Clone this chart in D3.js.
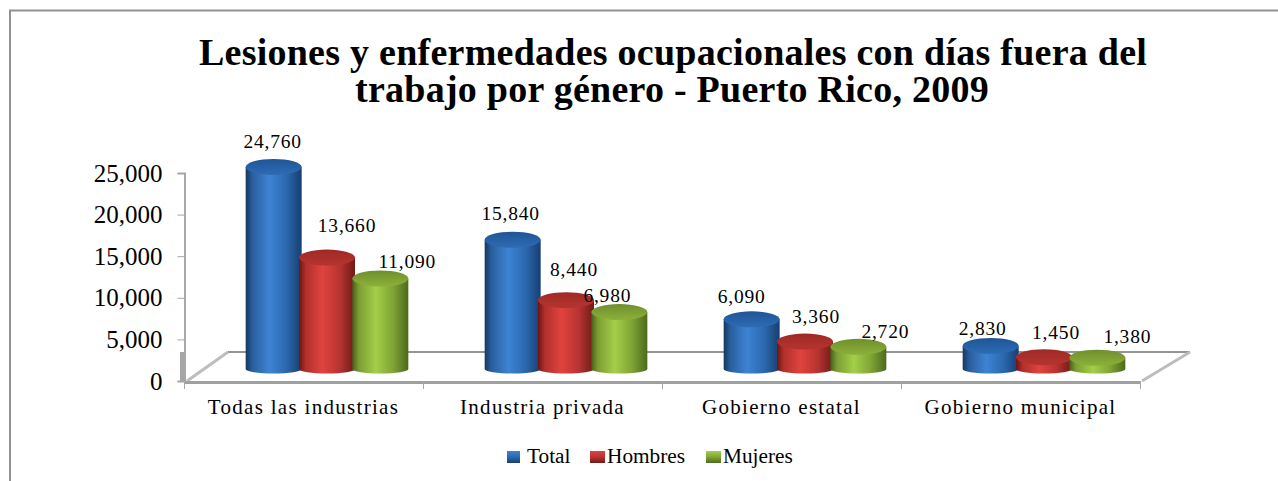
<!DOCTYPE html>
<html><head><meta charset="utf-8">
<script src="https://cdnjs.cloudflare.com/ajax/libs/d3/7.8.5/d3.min.js"></script>
<style>html,body{margin:0;padding:0;background:#fff}svg{display:block}text{font-family:"Liberation Serif",serif;fill:#000}</style>
</head><body><script>
const categories = ["Todas las industrias","Industria privada","Gobierno estatal","Gobierno municipal"];
const seriesNames = ["Total","Hombres","Mujeres"];
const total = [24760,15840,6090,2830];
const hombres = [13660,8440,3360,1450];
const mujeres = [11090,6980,2720,1380];
const yTicks = [0,5000,10000,15000,20000,25000];
const titleLines = ["Lesiones y enfermedades ocupacionales con días fuera del","trabajo por género - Puerto Rico, 2009"];
const seriesValues = [total,hombres,mujeres];
// hand-placed label offsets, as in the source chart [dx,dy] per category for each series
const labelNudge = [
 [[-1,-25],[-2,-26],[-10,-22],[-8,-17]],
 [[20,-32],[8,-30],[11,-25],[12,-24]],
 [[27,-17],[-12,-16],[27,-15],[30,-21]]
];
const palettes = [["#17375e","#2a5f9e","#3d83d4","#2c69b0","#173f70","#2e6cb4","#1f5596"],
                  ["#6e1512","#b0302c","#e0433e","#b83431","#701a18","#b53330","#a02a27"],
                  ["#46601a","#7d9e33","#a3cf48","#80a536","#4c6a1c","#8cb03a","#6f8f2c"]];
const W=1278,H=481;
const svg=d3.select("body").append("svg").attr("width",W).attr("height",H);
const defs=svg.append("defs");
palettes.forEach((p,i)=>{
  const g=defs.append("linearGradient").attr("id","cyl"+i);
  [[0,p[0]],[.12,p[1]],[.42,p[2]],[.72,p[3]],[1,p[4]]].forEach(s=>g.append("stop").attr("offset",s[0]).attr("stop-color",s[1]));
  const r=defs.append("linearGradient").attr("id","leg"+i).attr("x2",0).attr("y2",1);
  [[0,p[2]],[.5,p[3]],[1,p[4]]].forEach(s=>r.append("stop").attr("offset",s[0]).attr("stop-color",s[1]));
  const t=defs.append("linearGradient").attr("id","top"+i).attr("x2",0).attr("y2",1);
  [[0,p[6]],[1,p[5]]].forEach(c=>t.append("stop").attr("offset",c[0]).attr("stop-color",c[1]));
});
defs.append("filter").attr("id","soft").append("feGaussianBlur").attr("stdDeviation",0.6);
// frame: open on the right, runs off the page
svg.append("path").attr("d","M10,481V10.5H1278").attr("fill","none").attr("stroke","#929292").attr("stroke-width",2);
// title
svg.append("g").selectAll("text").data(titleLines).join("text")
  .attr("x",(d,i)=>i?672:673).attr("y",(d,i)=>i?102:65).attr("text-anchor","middle")
  .attr("font-weight","bold").attr("font-size",38).attr("letter-spacing",0.25).text(d=>d);
// scales
const axisY=d3.scaleLinear().domain([0,25000]).range([381,173]);
const barY=d3.scaleLinear().domain([0,25000]).range([369,165]);
const x0=d3.scaleBand().domain(categories).range([184,1140]);
const x1=d3.scaleBand().domain(seriesNames).range([-80,80]);
const cx=(c,s)=>x0(c)+x0.bandwidth()/2+24.5+x1(s)+x1.bandwidth()/2-1;
// floor
const floor=svg.append("g").attr("filter","url(#soft)");
floor.append("path").attr("d","M228,352H1190").attr("fill","none").attr("stroke","#949494").attr("stroke-width",2);
floor.append("path").attr("d","M187,381L228,352M1142,381L1190,352").attr("fill","none").attr("stroke","#bdbdbd").attr("stroke-width",3);
floor.append("path").attr("d","M184,382.5H1141").attr("stroke","#a0a0a0").attr("stroke-width",3).attr("fill","none");
floor.append("path").attr("d","M182,352V381").attr("stroke","#a6a6a6").attr("stroke-width",4);
// y axis
const yAxis=d3.axisLeft(axisY).tickValues(yTicks).tickFormat(d3.format(",")).tickSize(7).tickPadding(15);
const ya=svg.append("g").attr("transform","translate(184.5,0)").call(yAxis);
ya.select(".domain").attr("stroke","#a6a6a6").attr("stroke-width",2);
ya.selectAll("line").attr("stroke","#a6a6a6");
ya.selectAll("text").attr("font-size",25).attr("font-family","Liberation Serif").attr("fill","#000");
// x axis
const xa=svg.append("g").attr("transform","translate(0,381.5)").call(d3.axisBottom(x0).tickSize(0).tickPadding(18));
xa.select(".domain").remove();
xa.selectAll("text").attr("font-size",21).attr("font-family","Liberation Serif").attr("fill","#000").attr("letter-spacing",1.3);
svg.append("g").selectAll("line").data(d3.range(categories.length+1)).join("line")
  .attr("x1",i=>184+i*x0.step()+.5).attr("x2",i=>184+i*x0.step()+.5).attr("y1",381).attr("y2",389).attr("stroke","#a6a6a6");
// cylinders
const rx=28,ry=8,ryBase=4.5;
const bars=seriesValues.flatMap((vals,s)=>vals.map((v,c)=>({v,s,c})));
const order=bars.slice().sort((a,b)=>a.c-b.c||a.s-b.s);
const gb=svg.append("g").attr("filter","url(#soft)");
const node=gb.selectAll("g").data(order).join("g");
node.append("path").attr("fill",d=>`url(#cyl${d.s})`).attr("d",d=>{
  const X=cx(categories[d.c],seriesNames[d.s]);
  const t=barY(d.v),b=barY(0);
  return `M${X-rx},${t}V${b}A${rx},${ryBase} 0 0 0 ${X+rx},${b}V${t}Z`;
});
node.append("ellipse").attr("cx",d=>cx(categories[d.c],seriesNames[d.s])).attr("cy",d=>barY(d.v))
  .attr("rx",rx).attr("ry",ry).attr("fill",d=>`url(#top${d.s})`);
// labels
svg.append("g").selectAll("text").data(bars).join("text")
  .attr("x",d=>cx(categories[d.c],seriesNames[d.s])+labelNudge[d.s][d.c][0])
  .attr("y",d=>barY(d.v)+labelNudge[d.s][d.c][1]+6)
  .attr("text-anchor","middle").attr("font-size",19.5).attr("letter-spacing",0.8).text(d=>d3.format(",")(d.v));
// legend
const legendX=d3.scaleOrdinal().domain(seriesNames).range([507,590,706]);
const lg=svg.append("g").selectAll("g").data(seriesNames).join("g").attr("transform",d=>`translate(${legendX(d)},451)`);
lg.append("rect").attr("width",(d,i)=>i?15:13).attr("height",12).attr("fill",(d,i)=>`url(#leg${i})`);
lg.append("text").attr("x",(d,i)=>i?17:20).attr("y",12).attr("font-size",21.3).text(d=>d);
</script></body></html>
